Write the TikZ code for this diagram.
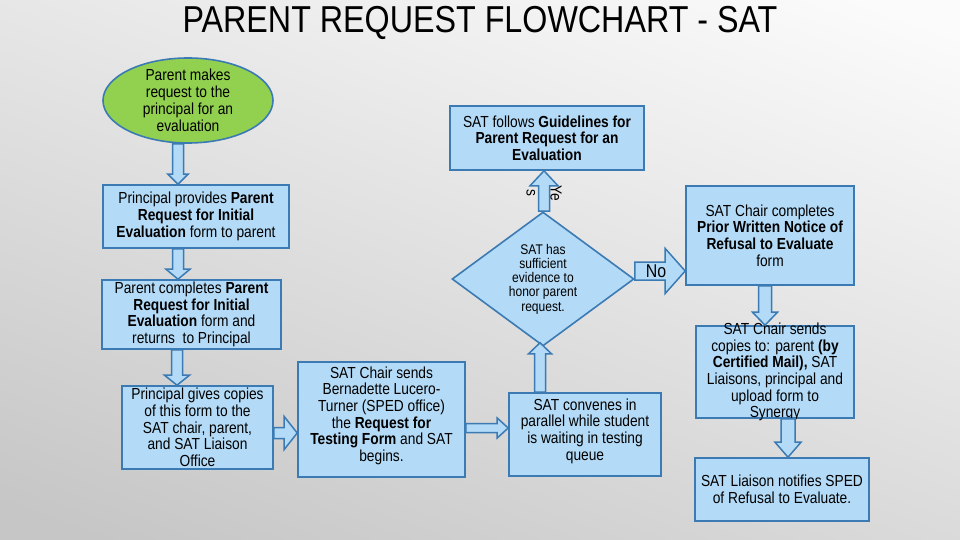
\documentclass[tikz,border=0pt]{standalone}
\usepackage{fontspec}
\setmainfont{Liberation Sans}[FakeStretch=0.86]
\usetikzlibrary{shapes.geometric,calc}
\definecolor{boxfill}{HTML}{B3DAF6}
\definecolor{boxline}{HTML}{3B7AB2}
\definecolor{ovalfill}{HTML}{92D050}
\definecolor{bgtop}{HTML}{FBFBFB}
\definecolor{bgbot}{HTML}{C6C6C6}
\tikzset{
  box/.style={draw=boxline, fill=boxfill, line width=1.6pt, inner sep=0pt, align=center,
    font=\fontsize{16}{16.7}\selectfont},
  oval/.style={ellipse, draw=boxline, fill=ovalfill, line width=1.6pt, inner xsep=0pt, inner ysep=-8pt,
    minimum width=170pt, minimum height=85pt, align=center, font=\fontsize{16}{17}\selectfont},
  decision/.style={diamond, draw=boxline, fill=boxfill, line width=1.6pt, inner sep=0pt, aspect=1.36,
    minimum width=182pt, minimum height=134pt, align=center, font=\fontsize{14}{14.3}\selectfont},
  blockarrowsty/.style={draw=boxline, fill=boxfill, line width=1.5pt, line join=miter},
}
% #1 start, #2 end, #3 shaft half width, #4 head half width, #5 head length
\newcommand\blockarr[5]{%
  \coordinate (tmpc) at ($(#2)!#5!(#1)$);
  \draw[blockarrowsty] ($(#1)!#3!90:(#2)$) -- ($(tmpc)!#3!90:(#2)$) -- ($(tmpc)!#4!90:(#2)$)
    -- (#2) -- ($(tmpc)!#4!-90:(#2)$) -- ($(tmpc)!#3!-90:(#2)$) -- ($(#1)!#3!-90:(#2)$) -- cycle;
}
\begin{document}
\begin{tikzpicture}[x=1pt,y=-1pt]
\useasboundingbox (0,0) rectangle (960,540);
\shade[top color=bgtop, bottom color=bgbot, shading angle=-20] (-60,-60) rectangle (1020,600);

\node[font=\fontsize{37.5}{40}\selectfont] (title) at (480,23) {PARENT REQUEST FLOWCHART - SAT};

\node[oval] (e1) at (188,100.5) {Parent makes\\request to the\\principal for an\\evaluation};
\node[box, minimum width=186pt, minimum height=63pt] (b1) at (196,216.5)
  {Principal provides \textbf{Parent}\\\textbf{Request for Initial}\\\textbf{Evaluation} form to parent};
\node[box, minimum width=179pt, minimum height=69pt] (b2) at (191.5,314.5)
  {Parent completes \textbf{Parent}\\\textbf{Request for Initial}\\\textbf{Evaluation} form and\\returns\ \ to Principal};
\node[box, minimum width=151pt, minimum height=83pt] (b3) at (197.5,427.5)
  {Principal gives copies\\of this form to the\\SAT chair, parent,\\and SAT Liaison\\Office};
\node[box, minimum width=167pt, minimum height=115pt, text depth=11pt] (b4) at (381.5,419.5)
  {SAT Chair sends\\Bernadette Lucero-\\Turner (SPED office)\\the \textbf{Request for}\\\textbf{Testing Form} and SAT\\begins.};
\node[box, minimum width=152pt, minimum height=83pt, text depth=10pt] (b5) at (585,434.5)
  {SAT convenes in\\parallel while student\\is waiting in testing\\queue};
\node[box, minimum width=194pt, minimum height=64pt] (b6) at (547,138)
  {SAT follows \textbf{Guidelines for}\\\textbf{Parent Request for an}\\\textbf{Evaluation}};
\node[decision] (d1) at (543,279) {SAT has\\sufficient\\evidence to\\honor parent\\request.};
\node[box, minimum width=168pt, minimum height=99pt] (b7) at (770,235.5)
  {SAT Chair completes\\\textbf{Prior Written Notice of}\\\textbf{Refusal to Evaluate}\\form};
\node[box, minimum width=158pt, minimum height=92pt, inner ysep=-4pt] (b8) at (775,372)
  {SAT Chair sends\\copies to: parent \textbf{(by}\\\textbf{Certified Mail),} SAT\\Liaisons, principal and\\upload form to\\Synergy};
\node[box, minimum width=174pt, minimum height=63pt] (b9) at (782,489.5)
  {SAT Liaison notifies SPED\\of Refusal to Evaluate.};

% connectors
\coordinate (a1s) at (e1.south -| 178,0);
\coordinate (a1e) at (b1.north -| 178,0);
\blockarr{a1s}{a1e}{5.5pt}{10pt}{10pt}
\coordinate (a2s) at (b1.south -| 178,0);
\coordinate (a2e) at (b2.north -| 178,0);
\blockarr{a2s}{a2e}{5.5pt}{12pt}{10pt}
\coordinate (a3s) at (b2.south -| 177,0);
\coordinate (a3e) at (b3.north -| 177,0);
\blockarr{a3s}{a3e}{5.5pt}{12.5pt}{10pt}
\coordinate (a4s) at (b3.east |- 0,433);
\coordinate (a4e) at (b4.west |- 0,433);
\blockarr{a4s}{a4e}{5.5pt}{16.5pt}{13pt}
\coordinate (a5s) at (b4.east |- 0,428);
\coordinate (a5e) at (b5.west |- 0,428);
\blockarr{a5s}{a5e}{4.5pt}{10pt}{11pt}
\coordinate (a6s) at (b5.north -| 540,0);
\coordinate (a6e) at ($(d1.south -| 540,0)+(0,-4)$);
\blockarr{a6s}{a6e}{5.5pt}{11.5pt}{11pt}
\coordinate (a7s) at (d1.north -| 544,0);
\coordinate (a7e) at (b6.south -| 544,0);
\blockarr{a7s}{a7e}{5.5pt}{14pt}{15pt}
\path (a7s) -- (a7e) node[pos=0.45, rotate=-90, align=center, font=\fontsize{16}{24}\selectfont] (yes) {Ye\\s};
\coordinate (a8s) at (d1.east |- 0,271);
\coordinate (a8e) at (b7.west |- 0,271);
\blockarr{a8s}{a8e}{9pt}{22.5pt}{20pt}
\path (a8s) -- (a8e) node[pos=0.42, font=\fontsize{18.5}{18.5}\selectfont] (no) {No};
\coordinate (a9s) at (b7.south -| 765,0);
\coordinate (a9e) at (b8.north -| 765,0);
\blockarr{a9s}{a9e}{6.5pt}{12.5pt}{13pt}
\coordinate (a10s) at (b8.south -| 788,0);
\coordinate (a10e) at (b9.north -| 788,0);
\blockarr{a10s}{a10e}{7pt}{13pt}{15pt}
\end{tikzpicture}
\end{document}
